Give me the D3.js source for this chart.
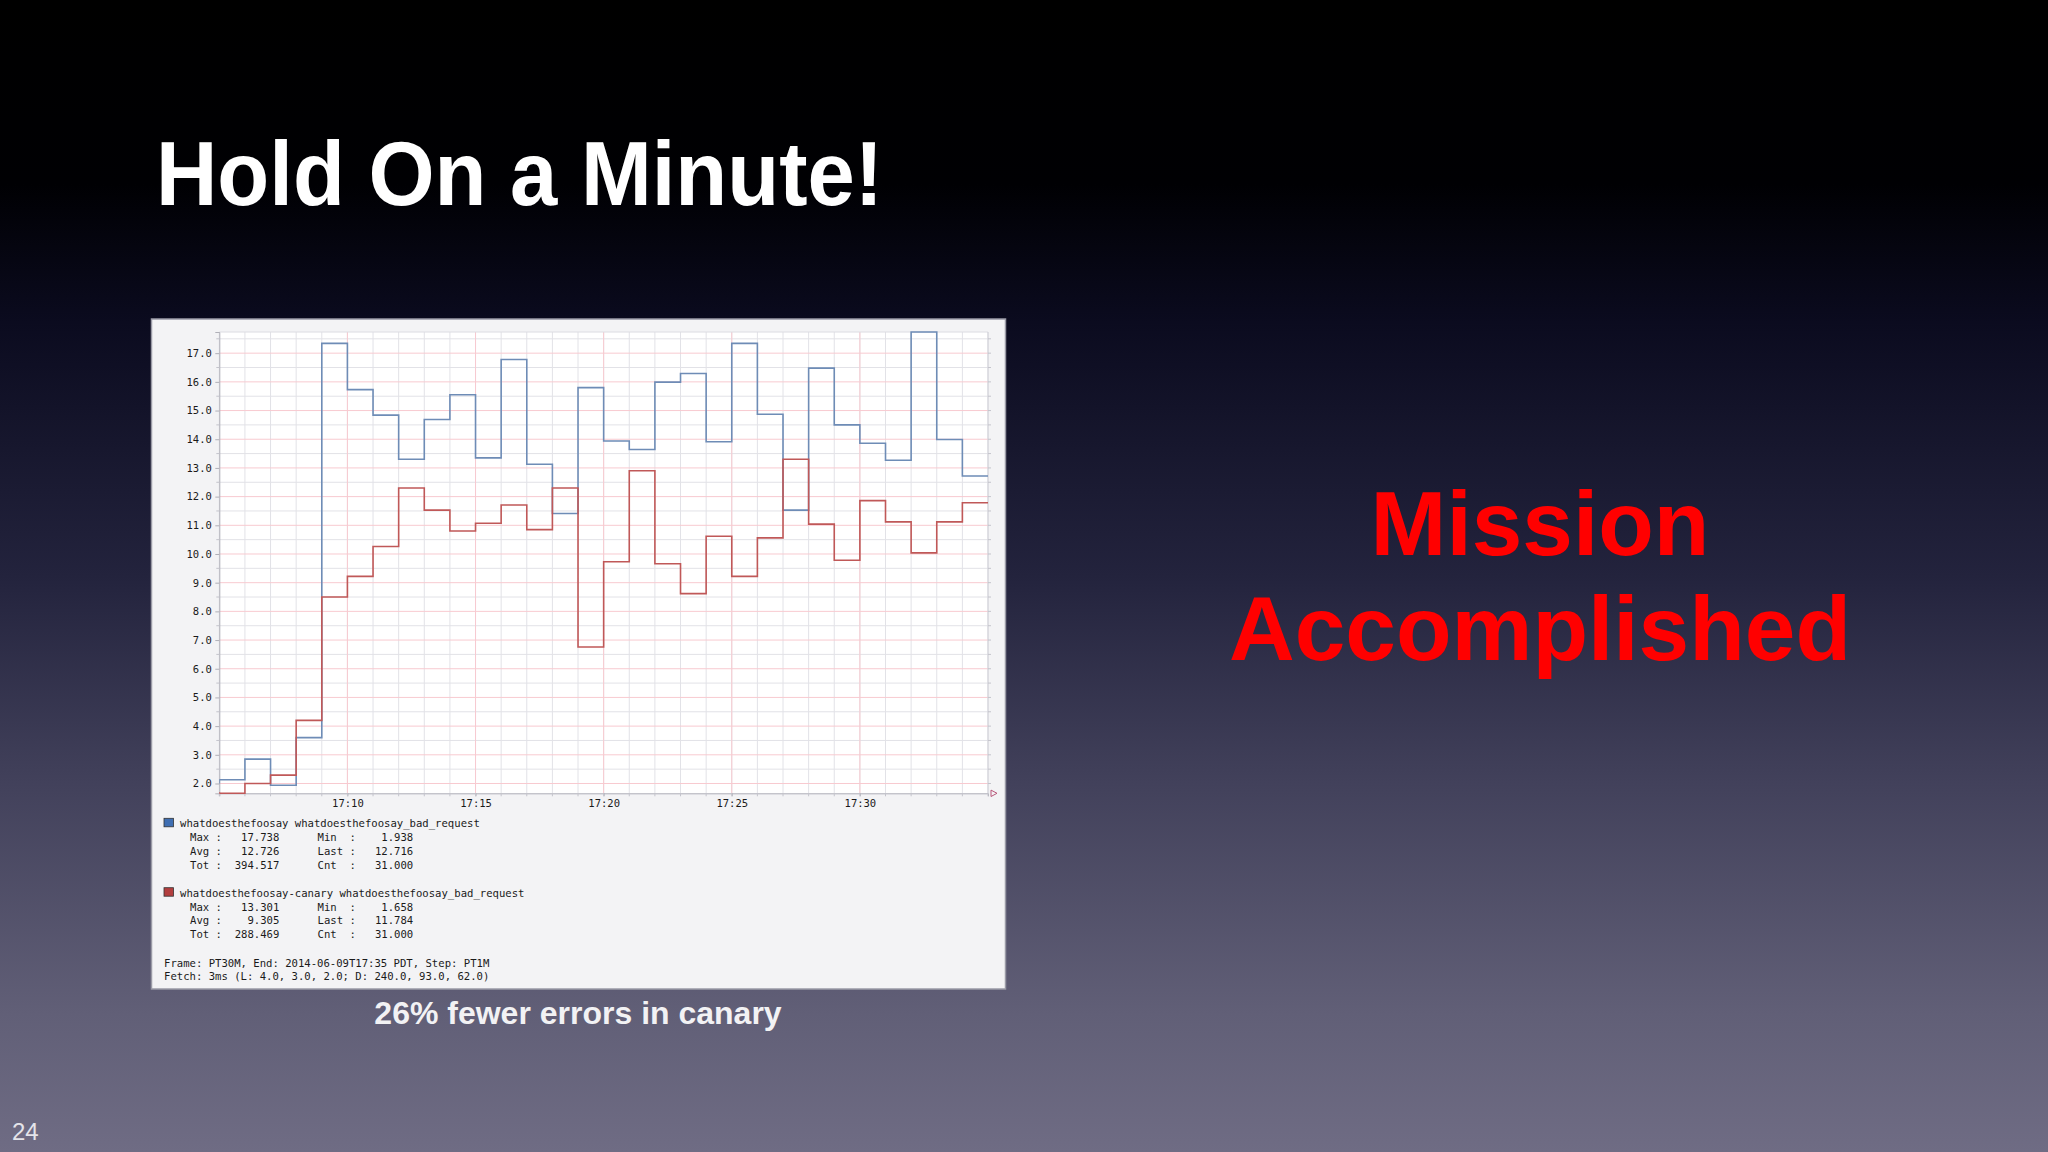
<!DOCTYPE html>
<html><head><meta charset="utf-8">
<script src="https://cdn.jsdelivr.net/npm/d3@7"></script>
<style>html,body{margin:0;padding:0;background:#000;} svg{display:block}</style>
</head><body>
<script>
// ---------------- data ----------------
const times = ["17:05","17:06","17:07","17:08","17:09","17:10","17:11","17:12","17:13","17:14",
  "17:15","17:16","17:17","17:18","17:19","17:20","17:21","17:22","17:23","17:24",
  "17:25","17:26","17:27","17:28","17:29","17:30","17:31","17:32","17:33","17:34","17:35"];
// value at time t covers the minute ending at t (step-before); first point starts the line
const mainValues = [2.00, 2.13, 2.85, 1.938, 3.60, 17.34, 15.73, 14.84, 13.30, 14.69, 15.55,
  13.35, 16.78, 13.13, 11.41, 15.80, 13.94, 13.64, 15.99, 16.29, 13.91,
  17.34, 14.87, 11.53, 16.48, 14.50, 13.86, 13.27, 17.738, 13.99, 12.716];
const canaryValues = [1.70, 1.658, 2.00, 2.29, 4.20, 8.50, 9.22, 10.26, 12.30, 11.53, 10.80,
  11.07, 11.71, 10.85, 12.30, 6.76, 9.73, 12.90, 9.66, 8.62, 10.62,
  9.22, 10.56, 13.301, 11.04, 9.78, 11.86, 11.12, 10.04, 11.12, 11.784];
const xTickLabels = ["17:10","17:15","17:20","17:25","17:30"];
const yTickValues = [2,3,4,5,6,7,8,9,10,11,12,13,14,15,16,17];
const seriesNames = ["whatdoesthefoosay whatdoesthefoosay_bad_request",
                     "whatdoesthefoosay-canary whatdoesthefoosay_bad_request"];
const mainStats = ["Max :   17.738      Min  :    1.938",
                   "Avg :   12.726      Last :   12.716",
                   "Tot :  394.517      Cnt  :   31.000"];
const canaryStats = ["Max :   13.301      Min  :    1.658",
                     "Avg :    9.305      Last :   11.784",
                     "Tot :  288.469      Cnt  :   31.000"];
const footerLines = ["Frame: PT30M, End: 2014-06-09T17:35 PDT, Step: PT1M",
                     "Fetch: 3ms (L: 4.0, 3.0, 2.0; D: 240.0, 93.0, 62.0)"];
const titleText = "Hold On a Minute!";
const missionLines = ["Mission", "Accomplished"];
const captionText = "26% fewer errors in canary";
const pageNumber = "24";

// ---------------- drawing ----------------
const W = 2048, H = 1152;
const svg = d3.select("body").append("svg").attr("width", W).attr("height", H);
const defs = svg.append("defs");
const grad = defs.append("linearGradient").attr("id","bg").attr("x1",0).attr("y1",0).attr("x2",0).attr("y2",1);
[[0,"#000000"],[0.16,"#000003"],[0.28,"#0b0b1f"],[0.5,"#23233d"],[0.68,"#42415b"],[0.88,"#615f77"],[1,"#6f6c84"]]
  .forEach(([o,c]) => grad.append("stop").attr("offset", o).attr("stop-color", c));
svg.append("rect").attr("width", W).attr("height", H).attr("fill","url(#bg)");

const bold = "'Liberation Sans', Arial, Helvetica, sans-serif";
svg.append("text").attr("x",156).attr("y",205).attr("font-family",bold).attr("font-weight","bold")
  .attr("font-size",90).attr("fill","#ffffff").attr("textLength",727).attr("lengthAdjust","spacingAndGlyphs")
  .text(titleText);

svg.selectAll("text.mission").data(missionLines).join("text").attr("class","mission")
  .attr("x",1540).attr("y",(d,i)=>555+i*105).attr("text-anchor","middle")
  .attr("font-family",bold).attr("font-weight","bold").attr("font-size",91).attr("fill","#ff0000")
  .text(d=>d);

svg.append("text").attr("x",578).attr("y",1024).attr("text-anchor","middle")
  .attr("font-family",bold).attr("font-weight","bold").attr("font-size",32).attr("fill","#f2f2f4")
  .text(captionText);

svg.append("text").attr("x",12).attr("y",1140).attr("font-family","'Liberation Sans', sans-serif")
  .attr("font-size",24).attr("fill","#e4e4ea").text(pageNumber);

// chart panel
const panel = {x:151.5, y:319, w:854, h:670};
svg.append("rect").attr("x",panel.x).attr("y",panel.y).attr("width",panel.w).attr("height",panel.h)
  .attr("fill","#f3f3f5").attr("stroke","#9a9aa6").attr("stroke-width",1.5);

const X0 = 219.3, X1 = 988, Y0 = 332, Y1 = 793.3;
const parse = s => new Date(Date.UTC(2014, 5, 9, +s.slice(0,2), +s.slice(3)));
const tDates = times.map(parse);
const x = d3.scaleUtc().domain(d3.extent(tDates)).range([X0, X1]);
const y = d3.scaleLinear().domain(d3.extent(mainValues.concat(canaryValues))).range([Y1, Y0]);

const g = svg.append("g");
g.append("rect").attr("x",X0).attr("y",Y0).attr("width",X1-X0).attr("height",Y1-Y0).attr("fill","#ffffff");

const yMinor = d3.range(2, 17.6, 0.5).filter(v => v % 1 !== 0);
const minuteTicks = tDates;
const majorDates = xTickLabels.map(parse);
const mono = "'DejaVu Sans Mono', monospace";

// minor grid
g.selectAll("line.ymin").data(yMinor).join("line")
  .attr("x1",X0).attr("x2",X1).attr("y1",d=>y(d)).attr("y2",d=>y(d))
  .attr("stroke","#e2e2e7").attr("stroke-width",1);
g.selectAll("line.xmin").data(minuteTicks).join("line")
  .attr("x1",d=>x(d)).attr("x2",d=>x(d)).attr("y1",Y0).attr("y2",Y1)
  .attr("stroke","#e2e2e7").attr("stroke-width",1);
// major grid
g.selectAll("line.ymaj").data(yTickValues).join("line")
  .attr("x1",X0).attr("x2",X1).attr("y1",d=>y(d)).attr("y2",d=>y(d))
  .attr("stroke","#f8cad0").attr("stroke-width",1);
g.selectAll("line.xmaj").data(majorDates).join("line")
  .attr("x1",d=>x(d)).attr("x2",d=>x(d)).attr("y1",Y0).attr("y2",Y1)
  .attr("stroke","#f8cad0").attr("stroke-width",1);

// top border & right border
g.append("line").attr("x1",X0).attr("x2",X1).attr("y1",Y0).attr("y2",Y0).attr("stroke","#dcdce2");
g.append("line").attr("x1",X1).attr("x2",X1).attr("y1",Y0).attr("y2",Y1).attr("stroke","#cfcfd6");

// axes
const yAxis = d3.axisLeft(y).tickValues(yTickValues).tickFormat(d3.format(".1f")).tickSize(4).tickPadding(3.5);
const ya = g.append("g").attr("transform",`translate(${X0},0)`).call(yAxis);
ya.select(".domain").attr("stroke","#b0b0b8");
ya.selectAll(".tick line").attr("stroke","#b0b0b8");
ya.selectAll("text").attr("font-family",mono).attr("font-size",10.5).attr("fill","#1a1a1a");
g.selectAll("line.yminTick").data(yMinor).join("line")
  .attr("x1",X0-3).attr("x2",X0).attr("y1",d=>y(d)).attr("y2",d=>y(d)).attr("stroke","#c4c4cc");
// right side ticks
g.selectAll("line.rTick").data(yTickValues.concat(yMinor)).join("line")
  .attr("x1",X1).attr("x2",X1+3).attr("y1",d=>y(d)).attr("y2",d=>y(d)).attr("stroke","#c4c4cc");

const xAxis = d3.axisBottom(x).tickValues(majorDates).tickFormat(d3.utcFormat("%H:%M")).tickSize(3).tickPadding(3);
const xa = g.append("g").attr("transform",`translate(0,${Y1})`).call(xAxis);
xa.select(".domain").attr("stroke","#b0b0b8");
xa.selectAll(".tick line").attr("stroke","#b0b0b8");
xa.selectAll("text").attr("font-family",mono).attr("font-size",10.5).attr("fill","#1a1a1a");
g.selectAll("line.xminTick").data(minuteTicks).join("line")
  .attr("x1",d=>x(d)).attr("x2",d=>x(d)).attr("y1",Y1).attr("y2",Y1+3).attr("stroke","#c4c4cc");
// arrow at the end of the x axis
g.append("path").attr("d",`M${X1+3},${Y1-3.2}L${X1+9},${Y1}L${X1+3},${Y1+3.2}Z`)
  .attr("fill","none").attr("stroke","#b8577a").attr("stroke-width",1);

// series
const line = d3.line().x((d,i)=>x(tDates[i])).y(d=>y(d)).curve(d3.curveStepBefore);
const clip = defs.append("clipPath").attr("id","plotclip");
clip.append("rect").attr("x",X0).attr("y",Y0-1).attr("width",X1-X0).attr("height",Y1-Y0+2);
const series = [
  {values: mainValues, color:"#6e8cb6"},
  {values: canaryValues, color:"#c05858"}
];
g.append("g").attr("clip-path","url(#plotclip)").selectAll("path.s").data(series).join("path")
  .attr("d",d=>line(d.values)).attr("fill","none").attr("stroke",d=>d.color).attr("stroke-width",1.6);

// legend
const lg = svg.append("g").attr("font-family",mono).attr("font-size",10.6).attr("fill","#1a1a1a");
const legendBlocks = [
  {name: seriesNames[0], stats: mainStats, fill:"#3f6eb2", top:827.3},
  {name: seriesNames[1], stats: canaryStats, fill:"#b23e3e", top:896.7}
];
legendBlocks.forEach(b => {
  lg.append("rect").attr("x",164).attr("y",b.top-9).attr("width",9.5).attr("height",8.5)
    .attr("fill",b.fill).attr("stroke","#333").attr("stroke-width",0.8);
  lg.append("text").attr("x",180).attr("y",b.top).style("white-space","pre").text(b.name);
  lg.selectAll(null).data(b.stats).join("text").attr("x",190).attr("y",(d,i)=>b.top+14+i*13.7)
    .style("white-space","pre").text(d=>d);
});
lg.selectAll("text.footer").data(footerLines).join("text").attr("class","footer")
  .attr("x",164).attr("y",(d,i)=>966.7+i*13.5).style("white-space","pre").text(d=>d);
</script>
</body></html>
